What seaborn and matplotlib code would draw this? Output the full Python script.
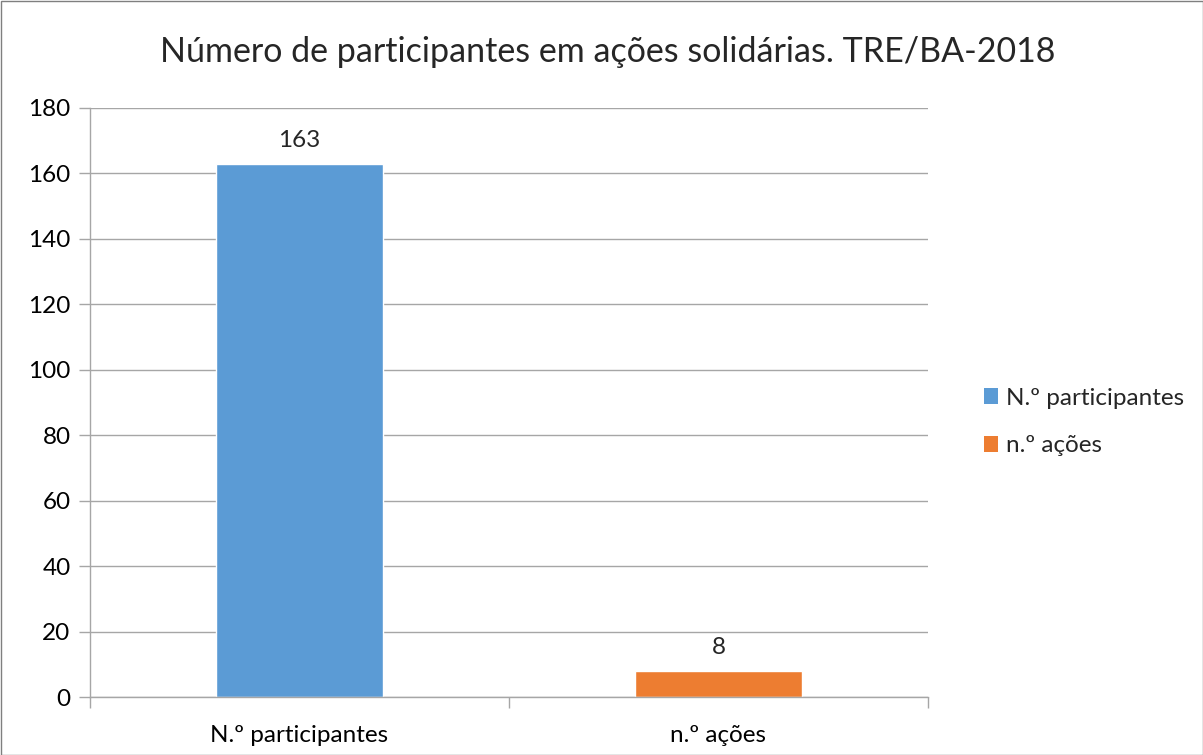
import pandas as pd
import numpy as np
import matplotlib.pyplot as plt
import seaborn as sns
from matplotlib.patches import Rectangle, Patch

# dados
categorias = ['N.º participantes', 'n.º ações']
valores = [163, 8]
cores = ['#5B9BD5', '#ED7D31']
titulo = 'Número de participantes em ações solidárias. TRE/BA-2018'

df = pd.DataFrame({'categoria': categorias, 'valor': valores})

sns.set_theme(style='white')
plt.rcParams['font.family'] = ['Lato', 'DejaVu Sans']

fig = plt.figure(figsize=(12.03, 7.55), dpi=100)
ax = fig.add_axes([90 / 1203, 58 / 755, 838 / 1203, 589 / 755])

sns.barplot(data=df, x='categoria', y='valor', hue='categoria', palette=cores,
            width=0.4, legend=False, ax=ax, saturation=1)

ax.set_ylim(0, 180)
ax.set_xlim(-0.5, 1.5)
ax.set_yticks(np.arange(0, 181, 20))
ax.yaxis.grid(True, color='#A6A6A6', linewidth=1)
ax.set_axisbelow(True)
for s in ['top', 'right']:
    ax.spines[s].set_visible(False)
for s in ['left', 'bottom']:
    ax.spines[s].set_color('#A6A6A6')
    ax.spines[s].set_linewidth(1)

# ticks do eixo x entre categorias
ax.set_xticks([-0.5, 0.5, 1.5], minor=True)
ax.tick_params(axis='x', which='minor', length=8, color='#A6A6A6', width=1, bottom=True)
ax.tick_params(axis='x', which='major', length=0, labelsize=17.5, colors='black', pad=20)
ax.tick_params(axis='y', length=8, color='#A6A6A6', width=1, labelsize=17.5, colors='black', pad=6, left=True)
ax.set_xlabel('')
ax.set_ylabel('')

for i, v in enumerate(valores):
    ax.text(i, v + 4, str(v), ha='center', va='bottom', fontsize=17.5)

fig.text(0.505, 1 - 52 / 755, titulo, fontsize=24.5, ha='center', va='center')

handles = [Patch(facecolor=c, edgecolor='none') for c in cores]
fig.legend(handles, categorias, loc='center left', bbox_to_anchor=(962 / 1203, 1 - 422 / 755),
           frameon=False, fontsize=17.5, handlelength=0.6, handleheight=0.6, handletextpad=0.3,
           labelspacing=1.1)

fig.patches.append(Rectangle((0.5 / 1203, 0.5 / 755), 1 - 1 / 1203, 1 - 1 / 755, transform=fig.transFigure,
                             fill=False, edgecolor='#7F7F7F', linewidth=1))

fig.savefig('out.png', dpi=100)
